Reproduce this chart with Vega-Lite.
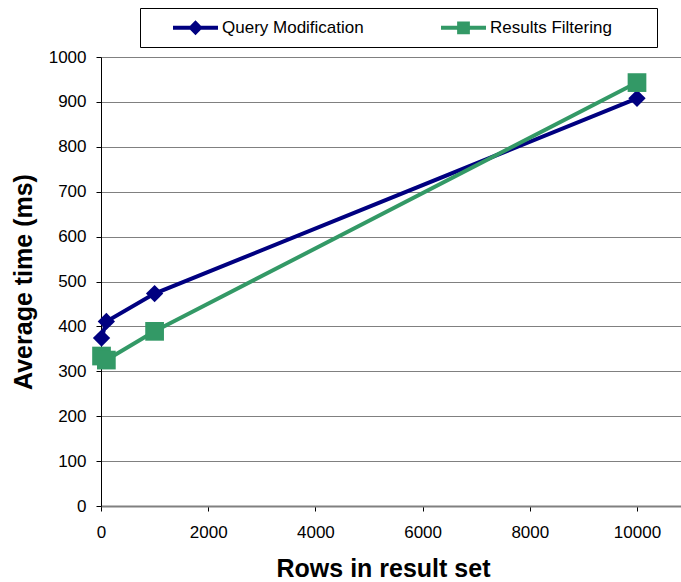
{
  "$schema": "https://vega.github.io/schema/vega-lite/v6.json",
  "autosize": "none",
  "width": 580,
  "height": 449,
  "padding": {"left": 101, "top": 57, "right": 0, "bottom": 76},
  "background": "white",
  "config": {
    "font": "Liberation Sans",
    "view": {"stroke": null},
    "axis": {"labelFont": "Liberation Sans", "titleFont": "Liberation Sans", "labelColor": "black", "titleColor": "black", "domainColor": "#000000", "tickColor": "#000000", "labelFontSize": 17, "tickSize": 5, "format": "d"}
  },
  "data": {"values": [
    {"rows": 10, "time": 374, "series": "Query Modification"},
    {"rows": 100, "time": 411, "series": "Query Modification"},
    {"rows": 1000, "time": 473, "series": "Query Modification"},
    {"rows": 10000, "time": 908, "series": "Query Modification"},
    {"rows": 10, "time": 334, "series": "Results Filtering"},
    {"rows": 100, "time": 325, "series": "Results Filtering"},
    {"rows": 1000, "time": 389, "series": "Results Filtering"},
    {"rows": 10000, "time": 943, "series": "Results Filtering"}
  ]},
  "encoding": {
    "x": {"field": "rows", "type": "quantitative", "scale": {"domain": [0, 10821], "nice": false},
      "axis": {"values": [0, 2000, 4000, 6000, 8000, 10000], "grid": false, "title": "Rows in result set", "titleFontSize": 25, "titleFontWeight": "bold", "titlePadding": 16, "titleX": 282, "labelPadding": 13, "labelFlush": false, "domainColor": "#808080", "domainWidth": 2}},
    "y": {"field": "time", "type": "quantitative", "scale": {"domain": [0, 1000], "nice": false},
      "axis": {"values": [0, 100, 200, 300, 400, 500, 600, 700, 800, 900, 1000], "grid": true, "gridColor": "#808080", "gridWidth": 1, "title": "Average time (ms)", "titleFontSize": 25, "titleFontWeight": "bold", "titlePadding": 12, "labelPadding": 10}},
    "color": {"field": "series", "type": "nominal", "scale": {"domain": ["Query Modification", "Results Filtering"], "range": ["#000080", "#339966"]},
      "legend": {"title": " ", "titleOrient": "right", "titlePadding": 34, "titleFontSize": 17, "orient": "none", "legendX": 39, "legendY": -49, "direction": "horizontal", "columns": 2, "strokeColor": "#000000", "padding": 11, "labelFontSize": 17, "labelColor": "black", "columnPadding": 55, "labelOffset": 18, "symbolSize": 225, "symbolOffset": 36,
        "encode": {"symbols": {"update": {
          "shape": {"signal": "datum.value === 'Query Modification' ? 'M-3,-0.28L-0.72,-0.28L0,-1L0.72,-0.28L3,-0.28L3,0.28L0.72,0.28L0,1L-0.72,0.28L-3,0.28Z' : 'M-3,-0.28L-0.85,-0.28L-0.85,-0.85L0.85,-0.85L0.85,-0.28L3,-0.28L3,0.28L0.85,0.28L0.85,0.85L-0.85,0.85L-0.85,0.28L-3,0.28Z'"},
          "fill": {"scale": "color", "field": "value"},
          "stroke": {"scale": "color", "field": "value"},
          "strokeWidth": {"value": 0}
        }}}}}
  },
  "layer": [
    {"mark": {"type": "line", "strokeWidth": 4}},
    {"mark": {"type": "point", "filled": true, "opacity": 1}, "encoding": {
      "shape": {"condition": {"test": "datum.series === 'Query Modification'", "value": "diamond"}, "value": "square"},
      "size": {"condition": {"test": "datum.series === 'Query Modification'", "value": 300}, "value": 350}
    }}
  ]
}
